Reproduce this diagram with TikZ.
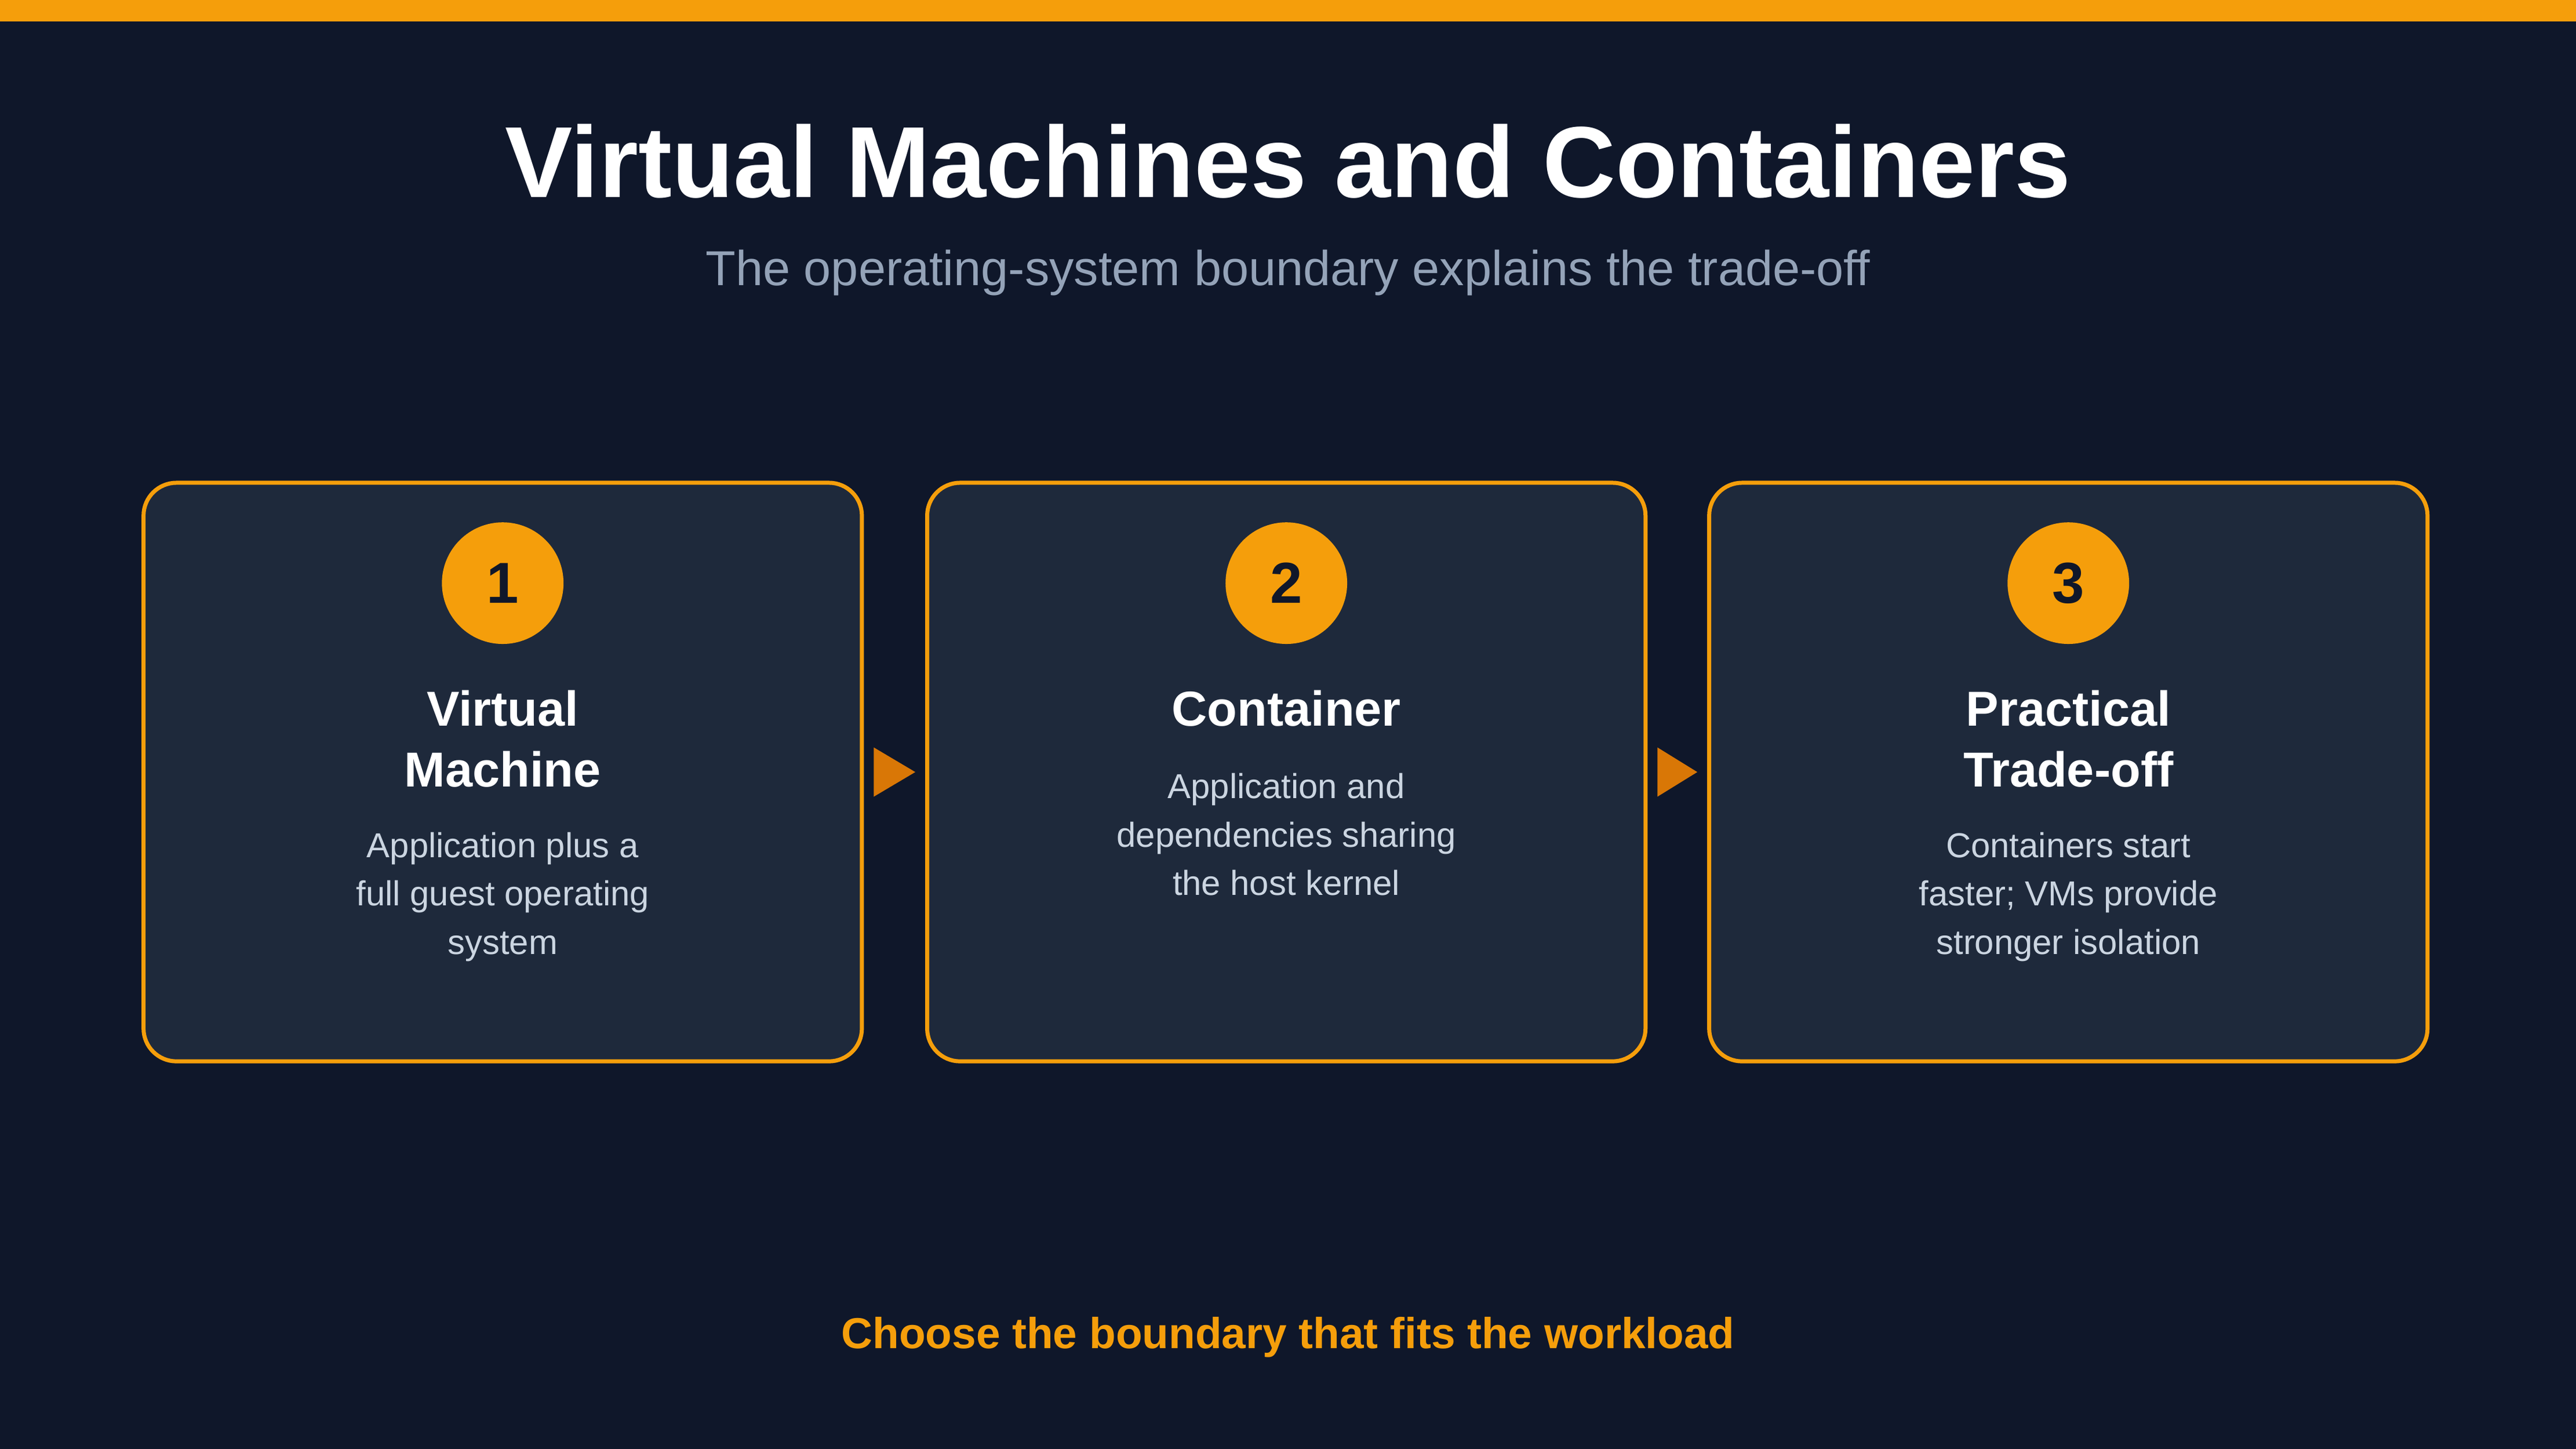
\documentclass[tikz,border=0pt]{standalone}
\usepackage{fontspec}
\setmainfont{Liberation Sans}
\usetikzlibrary{positioning,calc}
\definecolor{bg}{HTML}{0F172A}
\definecolor{card}{HTML}{1E293B}
\definecolor{amber}{HTML}{F59E0B}
\definecolor{darkamber}{HTML}{D97706}
\definecolor{muted}{HTML}{94A3B8}
\definecolor{body}{HTML}{CBD5E1}
\tikzset{
  card/.style={draw=amber, line width=0.7pt, fill=card, rounded corners=0.2cm,
    minimum width=4.37cm, minimum height=3.52cm, inner sep=0pt},
  badge/.style={circle, fill=amber, minimum size=0.74cm, inner sep=0pt,
    font=\fontsize{10}{12}\selectfont\bfseries, text=bg},
  head/.style={align=center, text=white, font=\fontsize{8.5}{10.6}\selectfont\bfseries},
  txt/.style={align=center, text=body, font=\fontsize{6}{8.4}\selectfont},
}
\begin{document}
\begin{tikzpicture}[x=0.01cm, y=-0.01cm]
    \fill[bg] (0,0) rectangle (1568,882);
    \fill[amber] (0,0) rectangle (1568,13);
    \node (title) at (784,98) {\color{white}\fontsize{17.5}{20}\selectfont\bfseries Virtual Machines and Containers};
    \node (sub) at (784,166) {\color{muted}\fontsize{8.5}{10}\selectfont The operating-system boundary explains the trade-off};
    \foreach \n/\x/\hd/\ty/\tx in {
        1/306/{Virtual\\Machine}/546/{Application plus a\\full guest operating\\system},
        2/783/{Container}/508/{Application and\\dependencies sharing\\the host kernel},
        3/1259/{Practical\\Trade-off}/546/{Containers start\\faster; VMs provide\\stronger isolation}} {
        \node[card] (box\n) at (\x,470) {};
        \node[badge] (num\n) at (\x,355) {\n};
        \node[head, below=0.15cm of num\n] (head\n) {\hd};
        \node[txt] (txt\n) at (\x,\ty) {\tx};
    }
    % pointers between cards
    \foreach \a/\b in {1/2,2/3} {
        \fill[darkamber] ($(box\a.east)+(6,-15)$) -- ($(box\b.west)+(-6,0)$) -- ($(box\a.east)+(6,15)$) -- cycle;
    }
    \node (foot) at (784,814) {\color{amber}\fontsize{7.5}{9}\selectfont\bfseries Choose the boundary that fits the workload};
\end{tikzpicture}
\end{document}
